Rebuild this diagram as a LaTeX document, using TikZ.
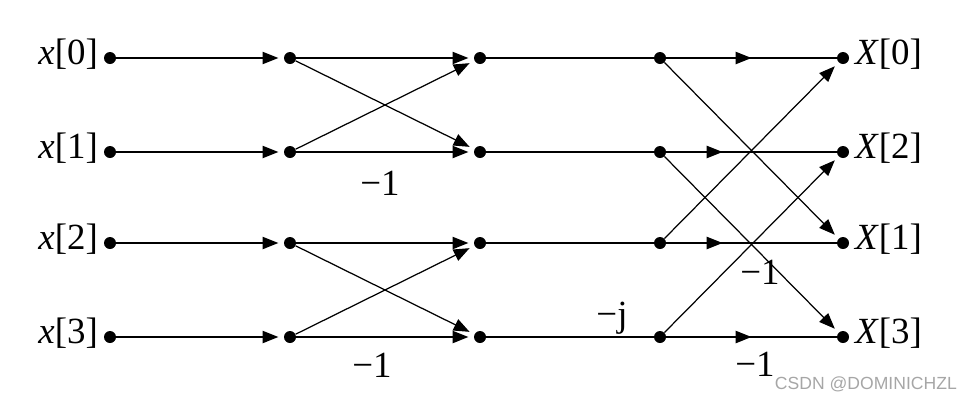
\documentclass[tikz,border=0pt]{standalone}
\usepackage{fontspec}
\setmainfont{Liberation Serif}
\setsansfont{Liberation Sans}
\usetikzlibrary{arrows.meta,decorations.markings}
\begin{document}
\begin{tikzpicture}[x=0.02cm,y=-0.02cm,
  dot/.style={circle,fill=black,inner sep=0pt,minimum size=12*0.02cm},
  ln/.style={line width=0.7pt},
  tip/.style={ln,-{Triangle[length=9pt,width=7pt]},shorten >=3pt},
  mid/.style={ln,postaction={decorate},decoration={markings,mark=at position #1 with {\arrow{Triangle[length=9pt,width=7pt]}}}},
  lbl/.style={font=\fontsize{21}{24}\selectfont,inner sep=1pt}]
\useasboundingbox (0,0) rectangle (967,400);
\foreach \i/\y in {0/58,1/152,2/243,3/337}{
  \node[dot] (a\i) at (110,\y) {};
  \node[dot] (b\i) at (290,\y) {};
  \node[dot] (c\i) at (480,\y) {};
  \node[dot] (d\i) at (660,\y) {};
  \node[lbl,anchor=east] (lx\i) at (100,\y-4) {\textit{x}[\i]};
  \draw[tip] (a\i) -- (b\i);
  \draw[ln] (c\i) -- (d\i);
}
\node[dot] (e0) at (843,58) {};
\node[dot] (e1) at (843,152) {};
\node[dot] (e2) at (843,243) {};
\node[dot] (e3) at (843,337) {};
\node[lbl,anchor=west] (X0) at (853,54) {\textit{X}[0]};
\node[lbl,anchor=west] (X2) at (853,148) {\textit{X}[2]};
\node[lbl,anchor=west] (X1) at (853,239) {\textit{X}[1]};
\node[lbl,anchor=west] (X3) at (853,333) {\textit{X}[3]};
\draw[tip] (b0) -- (c0);
\draw[tip] (b0) -- (c1);
\draw[tip] (b1) -- (c0);
\draw[tip] (b1) -- (c1);
\draw[tip] (b2) -- (c2);
\draw[tip] (b2) -- (c3);
\draw[tip] (b3) -- (c2);
\draw[tip] (b3) -- (c3);
\draw[tip] (d0) -- (e2);
\draw[tip] (d1) -- (e3);
\draw[tip] (d2) -- (e0);
\draw[tip] (d3) -- (e1);
\draw[mid=0.5] (d0) -- (e0);
\draw[mid=0.33] (d1) -- (e1);
\draw[mid=0.33] (d2) -- (e2);
\draw[mid=0.5] (d3) -- (e3);
\node[lbl] (m1) at (380,183) {−1};
\node[lbl] (m2) at (372,365) {−1};
\node[lbl] (m3) at (760,272) {−1};
\node[lbl] (m4) at (755,364) {−1};
\node[lbl] (mj) at (612,318) {−j};
\node[font=\sffamily\fontsize{10}{12}\selectfont,text=gray!70,anchor=east] (wm) at (963,384) {CSDN @DOMINICHZL};
\end{tikzpicture}
\end{document}
